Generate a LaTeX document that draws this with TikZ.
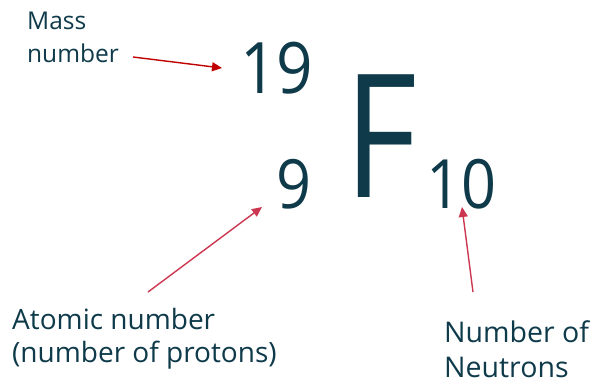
\documentclass[tikz,border=0pt]{standalone}
\usepackage{fontspec}
\setmainfont{Open Sans}
\usetikzlibrary{arrows.meta}
\definecolor{txt}{HTML}{0E3A4A}
\definecolor{redA}{HTML}{C00000}
\definecolor{redB}{HTML}{CC3650}
\begin{document}
\begin{tikzpicture}[x=1pt,y=-1pt,
  lbl/.style={inner sep=0pt,anchor=base west,text=txt,align=left},
  big/.style={inner sep=0pt,anchor=base west,text=txt},
  arr/.style={line width=1.4pt,-{Triangle[length=10pt,width=9pt]}}]
\useasboundingbox (0,0) rectangle (597,383);
\node[lbl,font=\fontsize{24.5}{33}\selectfont] (mass) at (27,62) {Mass\\number};
\node[big,font=\fontsize{71}{71}\selectfont] (A) at (240,93) {\scalebox{0.9}[1]{19}};
\node[big,font=\fontsize{172}{172}\selectfont] (F) at (344,197) {\scalebox{0.82}[1]{F}};
\node[big,font=\fontsize{68}{68}\selectfont] (Z) at (276,208) {\scalebox{0.9}[1]{9}};
\node[big,font=\fontsize{68}{68}\selectfont] (N) at (426,208) {\scalebox{0.9}[1]{10}};
\node[lbl,font=\fontsize{28}{33}\selectfont] (atomic) at (12,362) {Atomic number\\(number of protons)};
\node[lbl,font=\fontsize{28.5}{35}\selectfont] (neut) at (444,377) {Number of\\Neutrons};
\coordinate (m1) at (133,57);
\coordinate (m2) at (222,68);
\coordinate (a1) at (148,292);
\coordinate (a2) at (262,207);
\coordinate (n1) at (473,292);
\coordinate (n2) at (462,207);
\draw[arr,redA] (m1) -- (m2);
\draw[arr,redB] (a1) -- (a2);
\draw[arr,redB] (n1) -- (n2);
\end{tikzpicture}
\end{document}
